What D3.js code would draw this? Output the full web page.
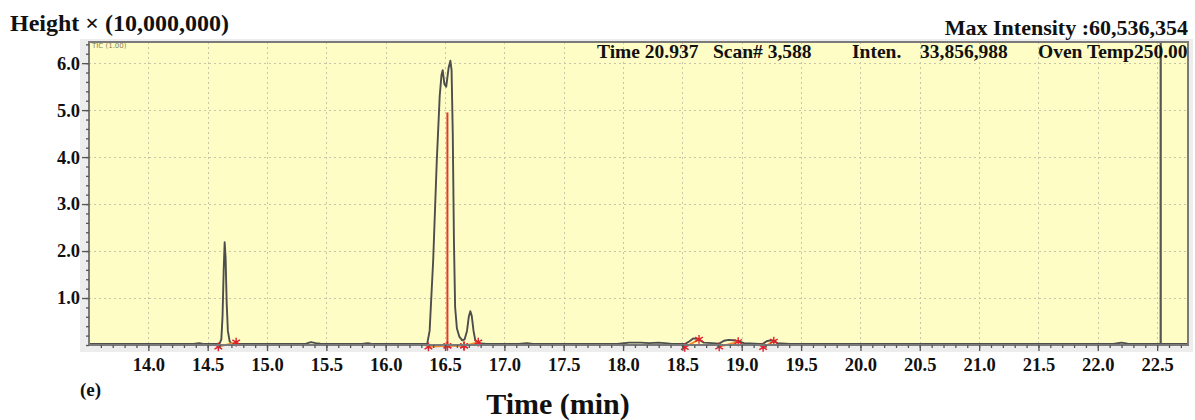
<!DOCTYPE html>
<html><head><meta charset="utf-8">
<script src="https://cdn.jsdelivr.net/npm/d3@7"></script>
<style>html,body{margin:0;padding:0;background:#fff;}svg{display:block;}</style>
</head><body><svg id="c" width="1195" height="420"></svg>
<script>
// ---- data (time in min, intensity ×10,000,000) ----
const traceTime = [13.50,13.80,14.10,14.38,14.43,14.47,14.58,14.60,14.615,14.625,14.635,14.643,14.651,14.66,14.67,14.685,14.70,14.80,
 15.20,15.33,15.37,15.41,15.45,15.55,15.80,15.85,15.89,16.20,16.35,16.37,16.40,16.43,16.455,16.47,16.48,16.495,16.51,16.53,16.545,16.555,
 16.565,16.575,16.585,16.60,16.62,16.645,16.665,16.685,16.70,16.713,16.725,16.74,16.755,16.78,16.85,17.12,17.19,17.24,17.95,18.05,18.15,
 18.22,18.30,18.40,18.52,18.56,18.59,18.62,18.65,18.68,18.75,18.81,18.85,18.89,18.93,18.97,19.02,19.15,19.18,19.21,19.24,19.27,19.30,
 19.40,21.00,22.13,22.20,22.25,22.32,22.76];
const traceIntensity = [0.02,0.02,0.02,0.02,0.04,0.02,0.02,0.03,0.12,0.6,1.6,2.19,1.85,0.9,0.3,0.08,0.03,0.02,
 0.02,0.03,0.06,0.04,0.03,0.02,0.02,0.04,0.02,0.02,0.03,0.3,1.8,3.9,5.3,5.75,5.85,5.55,5.5,5.9,6.05,5.85,
 4.5,2.2,0.8,0.35,0.18,0.1,0.12,0.3,0.6,0.72,0.62,0.3,0.1,0.04,0.02,0.02,0.04,0.02,0.02,0.05,0.05,
 0.04,0.05,0.03,0.02,0.08,0.14,0.13,0.1,0.05,0.04,0.03,0.09,0.11,0.1,0.08,0.04,0.02,0.03,0.08,0.1,0.09,0.04,
 0.02,0.02,0.02,0.05,0.03,0.02,0.02];
const peakStart = [14.59,16.36,16.52,16.66,18.52,18.81,19.18];
const peakEnd   = [14.74,16.52,16.66,16.78,18.64,18.97,19.27];
const peakStartLevel = [-0.04,-0.04,-0.02,-0.02,-0.05,-0.04,-0.05];
const peakEndLevel   = [0.06,-0.02,-0.02,0.06,0.12,0.07,0.08];
const peakMarkTime = [16.52];
const peakMarkTop = [4.95];
const cursorTime = [22.53];
const xTicks = [14.0,14.5,15.0,15.5,16.0,16.5,17.0,17.5,18.0,18.5,19.0,19.5,20.0,20.5,21.0,21.5,22.0,22.5];
const yTicks = [1.0,2.0,3.0,4.0,5.0,6.0];
const infoLabels = ["Time 20.937","Scan# 3,588","Inten.","33,856,988","Oven Temp250.00"];
const xDomain = [13.5, 22.76];
const yDomain = [0, 6.45];

// ---- drawing ----
const svg = d3.select("#c");
const serif = "'Liberation Serif','Times New Roman',serif";
const L = 89, R = 1188, T = 42, B = 345;
const x = d3.scaleLinear().domain(xDomain).range([L, R]);
const y = d3.scaleLinear().domain(yDomain).range([B, T]);

svg.append("rect").attr("x", 80).attr("y", 39).attr("width", 1113).attr("height", 313).attr("fill", "#ededed");
svg.append("rect").attr("x", L).attr("y", T).attr("width", R - L).attr("height", B - T).attr("fill", "#fffdc6");

// grid
const grid = svg.append("g").attr("stroke", "#c9c6a8").attr("stroke-width", 1).attr("stroke-dasharray", "2,3");
grid.selectAll("line.v").data(xTicks).join("line").attr("class","v")
  .attr("x1", d => Math.round(x(d)) + 0.5).attr("x2", d => Math.round(x(d)) + 0.5).attr("y1", T).attr("y2", B);
grid.selectAll("line.h").data(yTicks).join("line").attr("class","h")
  .attr("y1", d => Math.round(y(d)) + 0.5).attr("y2", d => Math.round(y(d)) + 0.5).attr("x1", L).attr("x2", R);

// trace
const pts = traceTime.map((t, i) => [t, traceIntensity[i]]);
svg.append("path").datum(pts)
  .attr("d", d3.line().x(d => x(d[0])).y(d => y(d[1])))
  .attr("fill", "none").attr("stroke", "#4d4d4d").attr("stroke-width", 1.9).attr("stroke-linejoin", "round");

// integration baselines & markers
const ig = svg.append("g");
peakStart.forEach((s, i) => {
  ig.append("line").attr("x1", x(s)).attr("y1", y(peakStartLevel[i])).attr("x2", x(peakEnd[i])).attr("y2", y(peakEndLevel[i]))
    .attr("stroke", "#f08a30").attr("stroke-width", 1.8);
});
svg.selectAll("line.pm").data(peakMarkTime).join("line").attr("class","pm")
  .attr("x1", d => x(d)).attr("x2", d => x(d)).attr("y1", (d, i) => y(peakMarkTop[i])).attr("y2", y(0))
  .attr("stroke", "#e03a30").attr("stroke-width", 2);
const marks = [];
peakStart.forEach((s, i) => { marks.push([s, peakStartLevel[i]]); marks.push([peakEnd[i], peakEndLevel[i]]); });
svg.selectAll("path.mk").data(marks).join("path").attr("class","mk")
  .attr("transform", d => `translate(${x(d[0])},${y(d[1])})`)
  .attr("d", d3.symbol().type(d3.symbolAsterisk).size(55))
  .attr("fill", "none").attr("stroke", "#e0202a").attr("stroke-width", 1.4);

// cursor line
svg.selectAll("line.cur").data(cursorTime).join("line").attr("class","cur")
  .attr("x1", d => x(d)).attr("x2", d => x(d)).attr("y1", T).attr("y2", B)
  .attr("stroke", "#555").attr("stroke-width", 2.2);

// frame
svg.append("rect").attr("x", L).attr("y", T).attr("width", R - L).attr("height", B - T)
  .attr("fill", "none").attr("stroke", "#7a7a7a").attr("stroke-width", 2);

// axes
const minorX = d3.range(136, 228).map(v => v / 10).filter(v => v >= xDomain[0] && v <= xDomain[1]);
const minorY = d3.range(0, 33).map(v => v / 5).filter(v => v <= yDomain[1]);
const xMinor = svg.append("g").attr("transform", `translate(0,${B})`)
  .call(d3.axisBottom(x).tickValues(minorX).tickSize(3).tickFormat(""));
const xMajor = svg.append("g").attr("transform", `translate(0,${B})`)
  .call(d3.axisBottom(x).tickValues(xTicks).tickSize(6).tickPadding(7).tickFormat(d3.format(".1f")));
const yMinor = svg.append("g").attr("transform", `translate(${L},0)`)
  .call(d3.axisLeft(y).tickValues(minorY).tickSize(3).tickFormat(""));
const yMajor = svg.append("g").attr("transform", `translate(${L},0)`)
  .call(d3.axisLeft(y).tickValues(yTicks).tickSize(7).tickPadding(2).tickFormat(d3.format(".1f")));
[xMinor, xMajor, yMinor, yMajor].forEach(g => {
  g.select(".domain").remove();
  g.selectAll("line").attr("stroke", "#555").attr("stroke-width", 1.3);
});
xMajor.selectAll("text").attr("font-family", serif).attr("font-weight", "bold").attr("font-size", 18.5).attr("fill", "#111");
yMajor.selectAll("text").attr("font-family", serif).attr("font-weight", "bold").attr("font-size", 18.5).attr("fill", "#111");

// texts
svg.append("text").attr("x", 92).attr("y", 48).attr("font-family", "'DejaVu Sans',sans-serif").attr("font-size", 7)
  .attr("fill", "#8a7f55").text("TIC (1.00)");
svg.append("text").attr("x", 10).attr("y", 31).attr("font-family", serif).attr("font-weight", "bold").attr("font-size", 24)
  .attr("fill", "#111").text("Height × (10,000,000)");
svg.append("text").attr("x", 1188).attr("y", 35).attr("text-anchor", "end").attr("font-family", serif).attr("font-weight", "bold")
  .attr("font-size", 22).attr("fill", "#111").text("Max Intensity :60,536,354");
const infoX = [597, 713, 852, 920, 1038];
infoLabels.forEach((t, i) => {
  svg.append("text").attr("x", infoX[i]).attr("y", 58).attr("font-family", serif).attr("font-weight", "bold")
    .attr("font-size", 19.5).attr("fill", "#111").text(t);
});
svg.append("text").attr("x", 80).attr("y", 396).attr("font-family", serif).attr("font-weight", "bold")
  .attr("font-size", 19).attr("fill", "#111").text("(e)");
svg.append("text").attr("x", 558).attr("y", 414).attr("text-anchor", "middle").attr("font-family", serif).attr("font-weight", "bold")
  .attr("font-size", 30).attr("fill", "#111").text("Time (min)");
</script></body></html>
